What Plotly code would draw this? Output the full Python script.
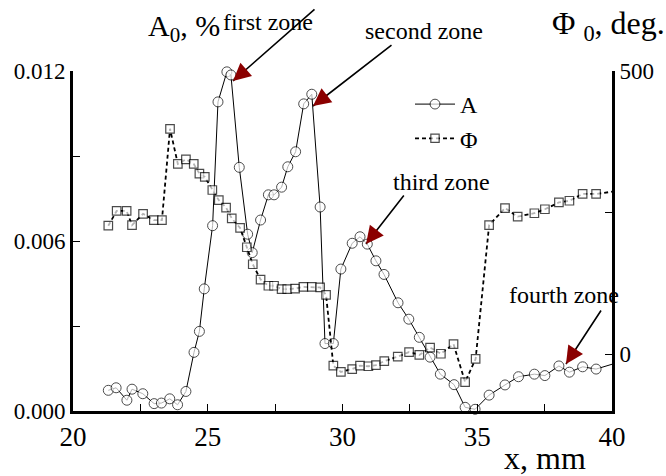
import plotly.graph_objects as go

# ---- data ----
x_A = [21.31, 21.60, 22.00, 22.19, 22.59, 23.01, 23.28, 23.59, 23.88, 24.19, 24.49, 24.69, 24.87,
       25.18, 25.38, 25.71, 25.86, 26.17, 26.48, 26.65, 26.96, 27.25, 27.46, 27.74, 27.97, 28.26,
       28.56, 28.86, 29.17, 29.35, 29.66, 29.94, 30.36, 30.65, 30.92, 31.24, 31.54, 32.06, 32.46,
       32.85, 33.25, 33.63, 34.14, 34.55, 34.92, 35.44, 36.03, 36.53, 37.12, 37.51, 38.03, 38.42,
       38.91, 39.41, 40.0]
A_vals = [0.00073, 0.00082, 0.00038, 0.00077, 0.00061, 0.00026, 0.00028, 0.00043, 0.00022, 0.00069,
          0.00207, 0.00281, 0.00431, 0.00654, 0.01091, 0.01197, 0.01186, 0.00860, 0.00624, 0.00559,
          0.00674, 0.00763, 0.00763, 0.00790, 0.00862, 0.00915, 0.01084, 0.01118, 0.00720, 0.00238,
          0.00238, 0.00501, 0.00592, 0.00615, 0.00589, 0.00530, 0.00482, 0.00382, 0.00324, 0.00260,
          0.00190, 0.00130, 0.00093, 0.00013, 0.00006, 0.00056, 0.00092, 0.00121, 0.00130, 0.00125,
          0.00159, 0.00137, 0.00156, 0.00148, 0.00165]

x_P = [21.31, 21.62, 21.99, 22.19, 22.60, 23.00, 23.30, 23.60, 23.89, 24.19, 24.48, 24.69, 24.89,
       25.17, 25.41, 25.68, 25.89, 26.20, 26.45, 26.67, 26.96, 27.25, 27.46, 27.74, 27.95, 28.24,
       28.55, 28.86, 29.17, 29.39, 29.66, 29.94, 30.36, 30.65, 30.96, 31.24, 31.55, 32.05, 32.47,
       32.85, 33.25, 33.65, 34.12, 34.55, 34.94, 35.44, 36.03, 36.50, 37.12, 37.51, 38.03, 38.42,
       38.91, 39.41, 40.0]
P_vals = [227, 253, 253, 228, 248, 237, 237, 398, 336, 344, 336, 319, 313,
          290, 272, 259, 240, 223, 189, 159, 132, 121, 121, 115, 115, 116,
          119, 119, 118, 105, -20, -31, -26, -20, -21, -19, -12, -4, 4,
          -1, 12, 1, 18, -49, -8, 228, 258, 243, 249, 256, 268, 271,
          283, 283, 287]

zone_labels = ["first zone", "second zone", "third zone", "fourth zone"]

FONT = "Liberation Serif"
W, H = 666, 476
L, R, T, B = 73, 612, 71, 411

def pxx(px):
    return (px - L) / (R - L)

def pxy(py):
    return (B - py) / (B - T)

nA = len(x_A)
nP = len(x_P)

fig = go.Figure()
fig.add_trace(go.Scatter(
    x=x_P, y=P_vals, name="Φ", yaxis="y2", mode="lines+markers",
    line=dict(color="black", width=1.8, dash="4px,3px"),
    marker=dict(symbol="square", size=[8.5] * (nP - 1) + [0], color="white",
                line=dict(color="black", width=1.2)),
    cliponaxis=False,
))
fig.add_trace(go.Scatter(
    x=x_A, y=A_vals, name="A", mode="lines+markers",
    line=dict(color="black", width=1),
    marker=dict(symbol="circle", size=[10] * (nA - 1) + [0], color="white",
                line=dict(color="black", width=1)),
    cliponaxis=False,
))

annotations = []

def label(text, cx, cy, size):
    annotations.append(dict(text=text, x=pxx(cx), y=pxy(cy), xref="paper", yref="paper",
                            xanchor="center", yanchor="middle", showarrow=False,
                            font=dict(family=FONT, size=size, color="black")))

# axis titles
label("A<sub>0</sub>, %", 184, 28, 30)
label("Φ <sub>0</sub>, deg.", 608, 25, 32)
label("x, mm", 545, 458, 32)

# zone labels: (text center px, tip px, tail px)
zones = [
    ((268, 22), (233, 81), (316, 8)),
    ((424, 31), (313, 106), (393, 44)),
    ((441, 182), (366, 244), (405, 194)),
    ((564, 295), (566, 364), (602, 309)),
]
for lab, (tc, tip, tail) in zip(zone_labels, zones):
    label(lab, tc[0], tc[1], 24)
    dx, dy = tail[0] - tip[0], tail[1] - tip[1]
    annotations.append(dict(text="", x=pxx(tip[0]), y=pxy(tip[1]), xref="paper", yref="paper",
                            ax=dx, ay=dy, showarrow=True, arrowhead=0, arrowwidth=1.6,
                            arrowcolor="black"))
    d = (dx ** 2 + dy ** 2) ** 0.5
    annotations.append(dict(text="", x=pxx(tip[0]), y=pxy(tip[1]), xref="paper", yref="paper",
                            ax=dx / d * 20, ay=dy / d * 20, showarrow=True, arrowhead=2,
                            arrowsize=2.2, arrowwidth=1.6, arrowcolor="#8B0000"))

fig.update_layout(
    width=W, height=H,
    margin=dict(l=L, r=W - R, t=T, b=H - B),
    paper_bgcolor="white", plot_bgcolor="white",
    font=dict(family=FONT, color="black"),
    showlegend=True,
    legend=dict(x=pxx(410), y=pxy(82), xanchor="left", yanchor="top",
                font=dict(family=FONT, size=24, color="black"),
                bgcolor="rgba(0,0,0,0)", traceorder="reversed",
                itemwidth=40, tracegroupgap=0),
    xaxis=dict(range=[20, 40], dtick=5, tick0=20, ticks="inside", ticklen=7, tickwidth=1,
               tickcolor="black", showline=True, linecolor="black", linewidth=3,
               showgrid=False, zeroline=False, mirror=False,
               tickfont=dict(family=FONT, size=27, color="black"),
               minor=dict(dtick=2.5, ticks="inside", ticklen=7, tickwidth=1, tickcolor="black")),
    yaxis=dict(range=[0, 0.012], dtick=0.006, tick0=0, tickformat=".3f", ticks="inside",
               ticklen=7, tickwidth=1, tickcolor="black", showline=True, linecolor="black",
               linewidth=3, showgrid=False, zeroline=False,
               tickfont=dict(family=FONT, size=23, color="black"),
               minor=dict(dtick=0.003, ticks="inside", ticklen=7, tickwidth=1, tickcolor="black")),
    yaxis2=dict(range=[-100, 500], overlaying="y", side="right", tickvals=[0, 500],
                ticks="inside", ticklen=7, tickwidth=1, tickcolor="black", showline=True,
                linecolor="black", linewidth=3, showgrid=False, zeroline=False,
                tickfont=dict(family=FONT, size=23, color="black"),
                minor=dict(tickvals=[250], ticks="inside", ticklen=7, tickwidth=1,
                           tickcolor="black")),
    annotations=annotations,
)

fig.write_html("out.html")
